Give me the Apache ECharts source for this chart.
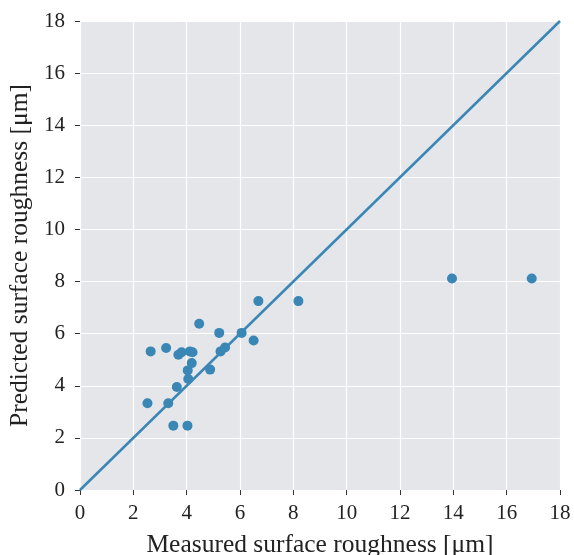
<!DOCTYPE html>
<html>
<head>
<meta charset="utf-8">
<script src="https://cdn.jsdelivr.net/npm/echarts@6/dist/echarts.min.js"></script>
<style>html,body{margin:0;padding:0;background:#fff}#c{width:574px;height:555px}</style>
</head>
<body>
<div id="c"></div>
<script>
var measured = [6.69, 8.19, 13.95, 16.94, 4.47, 5.22, 6.06, 6.51, 2.65, 3.23, 3.69, 3.81, 4.12, 4.22, 5.27, 5.44, 4.19, 4.04, 4.06, 4.88, 3.63, 2.53, 3.31, 3.50, 4.03];
var predicted = [7.25, 7.25, 8.12, 8.12, 6.38, 6.03, 6.03, 5.74, 5.32, 5.45, 5.19, 5.29, 5.32, 5.29, 5.32, 5.47, 4.87, 4.59, 4.26, 4.62, 3.95, 3.33, 3.33, 2.47, 2.47];
var identityLine = [[0, 0], [18, 18]];
var ticks = [0, 2, 4, 6, 8, 10, 12, 14, 16, 18];

var points = measured.map(function (m, i) { return [m, predicted[i]]; });
var font = 'Liberation Serif';
var blue = '#3a87b6';

var axisCommon = {
  min: 0, max: 18, interval: 2,
  axisLine: { show: false },
  axisTick: { show: true, length: 5, lineStyle: { color: '#333', width: 1 } },
  splitLine: { show: true, lineStyle: { color: '#ffffff', width: 1.2 } },
  axisLabel: { fontFamily: font, fontSize: 21, color: '#222' },
  nameLocation: 'middle',
  nameTextStyle: { fontFamily: font, fontSize: 25.5, color: '#222' }
};

var chart = echarts.init(document.getElementById('c'));
chart.setOption({
  animation: false,
  grid: { left: 80, right: 14, top: 21, bottom: 65, backgroundColor: '#e5e6e9', show: true, borderWidth: 0, containLabel: false, outerBoundsMode: 'none' },
  xAxis: Object.assign({}, axisCommon, {
    type: 'value', name: 'Measured surface roughness [μm]', nameGap: 42,
    axisLabel: Object.assign({}, axisCommon.axisLabel, { margin: 13 })
  }),
  yAxis: Object.assign({}, axisCommon, {
    type: 'value', name: 'Predicted surface roughness [μm]', nameGap: 46,
    axisLabel: Object.assign({}, axisCommon.axisLabel, { margin: 15 })
  }),
  series: [
    { type: 'line', data: identityLine, symbol: 'none', lineStyle: { color: blue, width: 2.5 }, z: 2 },
    { type: 'scatter', data: points, symbolSize: 10, itemStyle: { color: blue, opacity: 1 }, z: 3 }
  ]
});
</script>
</body>
</html>
